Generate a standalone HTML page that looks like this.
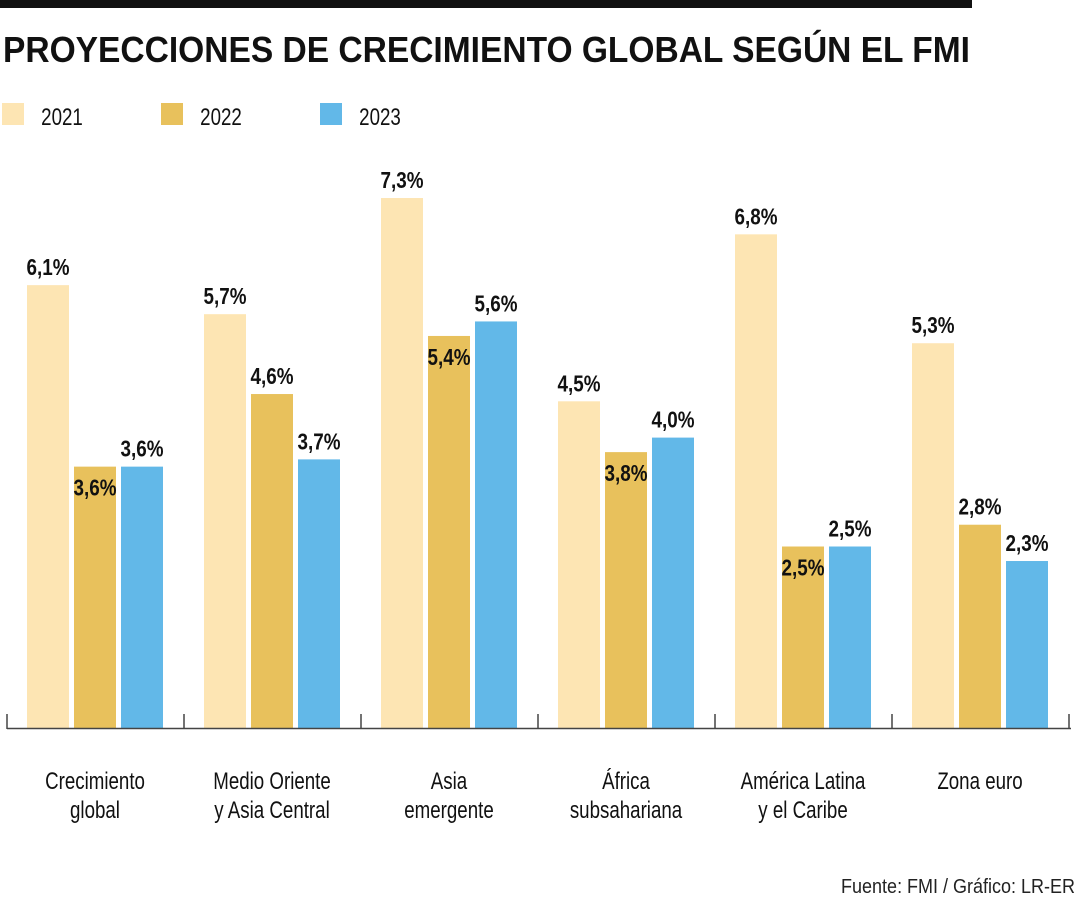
<!DOCTYPE html>
<html><head><meta charset="utf-8"><style>
body{margin:0;background:#fff;}
svg{display:block;font-family:"Liberation Sans",sans-serif;}
</style></head><body>
<svg id="chart" width="1080" height="900" viewBox="0 0 1080 900">
<rect x="0" y="0" width="972" height="8" fill="#111"/>
<text x="3" y="62" font-size="36" font-weight="bold" fill="#111" textLength="967" lengthAdjust="spacingAndGlyphs">PROYECCIONES DE CRECIMIENTO GLOBAL SEGÚN EL FMI</text>
<g id="legend"></g>
<g id="bars"></g>
<g id="axis"></g>
<g transform="translate(1075,893) scale(0.9,1)"><text x="0" y="0" text-anchor="end" font-size="20" fill="#222">Fuente: FMI / Gráfico: LR-ER</text></g>
</svg>
<script>
const categories = [["Crecimiento","global"],["Medio Oriente","y Asia Central"],["Asia","emergente"],["África","subsahariana"],["América Latina","y el Caribe"],["Zona euro"]];
const series = ["2021","2022","2023"];
const v2021 = [6.1,5.7,7.3,4.5,6.8,5.3];
const v2022 = [3.6,4.6,5.4,3.8,2.5,2.8];
const v2023 = [3.6,3.7,5.6,4.0,2.5,2.3];
const colors = ["#fde5b3","#e8c15c","#62b8e8"];
const NS="http://www.w3.org/2000/svg";
const base=728, pxPer=72.6, g0=27, gStep=177, bw=42, bgap=5;
const y=v=>base-v*pxPer;
const gx=i=>g0+i*gStep;
function mk(tag,attrs,parent){const e=document.createElementNS(NS,tag);for(const k in attrs)e.setAttribute(k,attrs[k]);parent.appendChild(e);return e;}
function ctext(x,yy,str,size,weight,parent,sx){
  const g=mk('g',{transform:`translate(${x},${yy}) scale(${sx||0.78},1)`},parent);
  const t=mk('text',{x:0,y:0,'text-anchor':'middle','font-size':size,'font-weight':weight,fill:'#111'},g);
  t.textContent=str;return t;}
const legend=document.getElementById('legend');
series.forEach((s,i)=>{
  const r=mk('rect',{x:2+i*159,y:103,width:22,height:22,fill:colors[i]},legend);
  
  
  const t=ctext(62+i*159,125,s,24,'normal',legend);
  
  
});
const bars=document.getElementById('bars');
const all=[v2021,v2022,v2023];
categories.forEach((c,i)=>{
  all.forEach((arr,j)=>{
    const v=arr[i];const x=gx(i)+j*(bw+bgap);
    const r=mk('rect',{x:x,y:y(v),width:bw,height:base-y(v),fill:colors[j]},bars);
    
    
    let ly=y(v)-10;
    if(j===1 && v2022[i]<=v2023[i]) ly=y(v)+29;
    const t=ctext(x+bw/2,ly,v.toFixed(1).replace('.',',')+'%',23,'bold',bars,0.82);
    
    
  });
  c.forEach((line,k)=>{
    const t=ctext(gx(i)+68,789+k*29,line,24,'normal',bars);
    
    
  });
});
const axis=document.getElementById('axis');
mk('line',{x1:7,x2:1071,y1:728.5,y2:728.5,stroke:'#444','stroke-width':1.5},axis);
for(let i=0;i<=categories.length;i++){
  const tx=gx(i)-20;
  const l=mk('line',{x1:tx,x2:tx,y1:714,y2:729,stroke:'#444','stroke-width':1.5},axis);
  
  
}
</script>
</body></html>
